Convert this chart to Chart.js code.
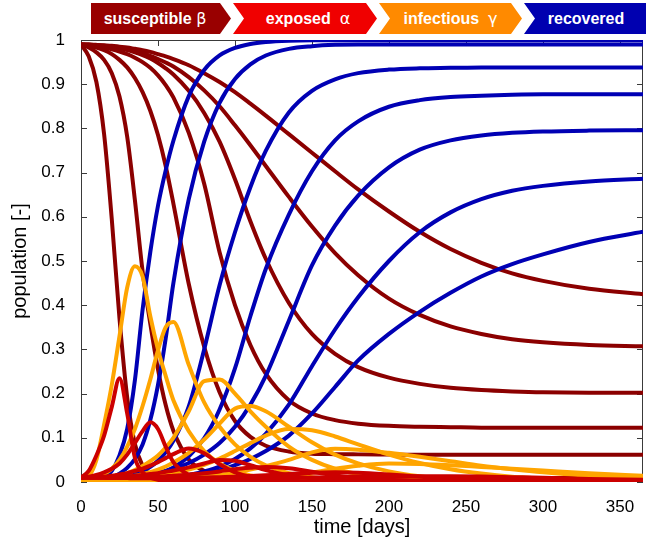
<!DOCTYPE html>
<html>
<head>
<meta charset="utf-8">
<script src="https://cdn.jsdelivr.net/npm/chart.js@4.4.1/dist/chart.umd.min.js"></script>
<style>
  body { margin: 0; background: #fff; }
  #wrap { position: relative; width: 646px; height: 544px; }
  #plot { position: absolute; left: 0; top: 0; }
  .seg {
    position: absolute; top: 3px; height: 31px;
    display: flex; align-items: center; justify-content: center;
    color: #fff; font: bold 16px "Liberation Sans", Arial, sans-serif;
    box-sizing: border-box; white-space: pre;
  }
  .seg .g { font: 16px "DejaVu Sans", sans-serif; }
  .first { clip-path: polygon(0 0, calc(100% - 11px) 0, 100% 50%, calc(100% - 11px) 100%, 0 100%); padding-right: 12px; }
  .mid { clip-path: polygon(0 0, calc(100% - 11px) 0, 100% 50%, calc(100% - 11px) 100%, 0 100%, 11px 50%); }
  .last { clip-path: polygon(0 0, 100% 0, 100% 100%, 0 100%, 11px 50%); padding-left: 2px; }
</style>
</head>
<body>
<div id="wrap">
  <canvas id="plot" width="646" height="544"></canvas>
  <div class="seg first" style="left:91px;width:140px;background:#990000">susceptible <span class="g">β</span></div>
  <div class="seg mid" style="left:233px;width:144px;background:#f00000;padding-left:6px">exposed  <span class="g">α</span></div>
  <div class="seg mid" style="left:379px;width:143px;background:#ff8a00">infectious  <span class="g">γ</span></div>
  <div class="seg last" style="left:524px;width:122px;background:#0000b0">recovered</div>
</div>
<script>
// sample days shared by every curve
const days = [0,5,10,15,20,25,30,35,40,45,50,55,60,70,80,90,100,110,120,135,150,165,180,200,220,240,260,280,300,330,365];

const xTicks = [0,50,100,150,200,250,300,350];
const yTicks = [0,0.1,0.2,0.3,0.4,0.5,0.6,0.7,0.8,0.9,1];

// susceptible, fastest beta first
const susceptible = [
  [.99,.963,.905,.787,.594,.37,.191,.086,.037,.015,.006,.0024,.001,.0005,.0005,.0005,.0005,.0005,.0005,.0005,.0005,.0005,.0005,.0005,.0005,.0005,.0005,.0005,.0005,.0005,.0005],
  [.99,.983,.972,.955,.925,.872,.781,.638,.477,.358,.255,.174,.116,.051,.025,.015,.011,.01,.0095,.009,.009,.009,.009,.009,.009,.009,.009,.009,.009,.009,.009],
  [.99,.987,.983,.977,.968,.955,.938,.914,.882,.84,.785,.715,.63,.448,.306,.203,.138,.102,.082,.069,.064,.063,.0625,.062,.0615,.0615,.0615,.0615,.0615,.0615,.0615],
  [.99,.988,.986,.983,.979,.974,.968,.96,.95,.937,.92,.898,.87,.79,.675,.52,.4,.31,.245,.185,.155,.14,.132,.127,.125,.124,.123,.123,.123,.123,.123],
  [.99,.989,.988,.986,.984,.981,.977,.972,.966,.958,.948,.936,.922,.885,.835,.77,.685,.59,.505,.405,.335,.29,.26,.236,.222,.213,.208,.205,.203,.202,.202],
  [.99,.99,.988,.987,.985,.982,.979,.975,.97,.964,.957,.949,.94,.916,.886,.85,.807,.762,.715,.645,.578,.518,.468,.415,.378,.352,.335,.323,.316,.31,.307],
  [.99,.99,.989,.988,.987,.985,.983,.98,.977,.973,.968,.963,.957,.943,.925,.905,.882,.856,.829,.787,.745,.703,.662,.612,.566,.527,.496,.472,.455,.437,.425]
];

const exposed = [
  [.01,.025,.06,.105,.17,.235,.155,.055,.022,.01,.005,.0025,.0015,.0008,.0004,.0002,.0001,0,0,0,0,0,0,0,0,0,0,0,0,0,0],
  [.01,.012,.016,.022,.03,.042,.062,.088,.115,.135,.12,.08,.045,.016,.007,.003,.0015,.001,.0005,0,0,0,0,0,0,0,0,0,0,0,0],
  [.01,.01,.011,.012,.014,.017,.02,.025,.03,.037,.045,.054,.063,.076,.065,.04,.022,.012,.007,.003,.0015,.0007,.0003,0,0,0,0,0,0,0,0],
  [.01,.01,.01,.01,.011,.012,.013,.014,.016,.018,.02,.023,.026,.033,.042,.05,.048,.038,.027,.015,.008,.004,.002,.001,.0005,0,0,0,0,0,0],
  [.01,.01,.01,.01,.01,.01,.01,.011,.011,.012,.012,.013,.014,.017,.02,.024,.029,.032,.034,.031,.023,.015,.009,.005,.003,.0015,.0008,.0004,.0002,0,0],
  [.01,.01,.01,.01,.0095,.0095,.009,.009,.009,.009,.009,.009,.009,.0095,.01,.011,.012,.0135,.015,.018,.021,.022,.021,.017,.012,.008,.005,.003,.002,.001,.0005],
  [.01,.01,.0095,.0095,.009,.009,.0088,.0085,.0085,.0083,.0082,.008,.008,.008,.008,.008,.008,.0085,.009,.009,.01,.011,.012,.0125,.013,.013,.0125,.011,.0095,.007,.005]
];

const infectious = [
  [.002,.012,.05,.13,.22,.33,.44,.488,.465,.375,.3,.24,.185,.115,.07,.042,.025,.015,.009,.004,.002,.001,.0005,0,0,0,0,0,0,0,0],
  [.002,.005,.01,.018,.03,.05,.08,.12,.172,.232,.298,.35,.362,.265,.18,.125,.085,.057,.038,.02,.011,.006,.003,.0015,.0007,.0003,0,0,0,0,0],
  [.002,.004,.006,.008,.011,.015,.02,.027,.036,.047,.06,.078,.1,.16,.228,.232,.2,.16,.125,.08,.05,.03,.018,.009,.005,.003,.0015,.0008,.0004,.0002,0],
  [.002,.003,.004,.005,.007,.009,.011,.014,.018,.022,.028,.035,.044,.066,.096,.132,.166,.172,.16,.125,.09,.062,.042,.024,.013,.007,.004,.002,.001,.0005,0],
  [.002,.0025,.003,.004,.005,.006,.007,.0085,.01,.012,.014,.017,.02,.028,.039,.053,.07,.088,.105,.12,.117,.103,.085,.062,.043,.029,.019,.012,.008,.004,.0015],
  [.002,.0022,.0025,.0028,.003,.0034,.0038,.0043,.0048,.0054,.006,.0067,.0075,.0095,.012,.016,.021,.028,.036,.05,.067,.075,.073,.066,.057,.047,.037,.029,.022,.014,.008],
  [.002,.002,.0022,.0024,.0026,.0028,.003,.0032,.0034,.0036,.0039,.0042,.0045,.005,.006,.007,.0085,.01,.012,.016,.021,.03,.037,.042,.041,.038,.034,.03,.026,.02,.014]
];

const recovered = [
  [0,.001,.004,.01,.025,.06,.12,.23,.39,.52,.625,.705,.772,.873,.932,.965,.982,.991,.9954,.9984,.9994,.9995,.9995,.9995,.9995,.9995,.9995,.9995,.9995,.9995,.9995],
  [0,.001,.003,.006,.011,.019,.032,.052,.085,.14,.22,.325,.45,.64,.77,.858,.912,.945,.965,.98,.986,.989,.99,.99,.99,.99,.99,.99,.99,.99,.99],
  [0,.001,.003,.004,.006,.008,.012,.017,.024,.034,.048,.067,.093,.171,.3,.445,.565,.667,.749,.836,.885,.911,.925,.933,.936,.937,.938,.938,.938,.938,.938],
  [0,.001,.002,.002,.003,.004,.006,.008,.011,.014,.019,.025,.033,.058,.099,.164,.257,.375,.482,.605,.703,.773,.816,.849,.864,.871,.874,.876,.877,.877,.877],
  [0,.001,.002,.003,.004,.006,.008,.01,.013,.016,.02,.025,.03,.043,.062,.088,.125,.175,.24,.365,.49,.58,.648,.712,.752,.773,.784,.79,.793,.795,.796],
  [0,0,.001,.001,.002,.002,.003,.004,.005,.006,.007,.008,.01,.016,.024,.035,.052,.076,.109,.175,.262,.345,.418,.5,.565,.61,.64,.659,.67,.68,.686],
  [0,0,.001,.001,.002,.002,.003,.003,.004,.005,.006,.007,.008,.012,.018,.026,.038,.052,.07,.105,.155,.215,.275,.335,.385,.428,.465,.493,.515,.543,.566]
];

const colors = {
  susceptible: '#8b0000',
  exposed: '#cc0000',
  infectious: '#ffa500',
  recovered: '#0000b4'
};

function series(group, color) {
  return group.map(vals => ({
    data: vals.map((v, i) => ({ x: days[i], y: v })),
    borderColor: color,
    borderWidth: 4,
    pointRadius: 0,
    fill: false,
    cubicInterpolationMode: 'monotone'
  }));
}

// first dataset is drawn on top
const datasets = [
  ...series(exposed, colors.exposed),
  ...series(infectious, colors.infectious),
  ...series(recovered, colors.recovered),
  ...series(susceptible, colors.susceptible)
];

// box and inward ticks, matlab style
const frame = {
  id: 'frame',
  beforeDatasetsDraw(chart) {
    const { ctx, chartArea: a, scales: { x, y } } = chart;
    ctx.save();
    ctx.strokeStyle = '#3a3a3a';
    ctx.lineWidth = 1;
    ctx.strokeRect(a.left + .5, a.top + .5, a.right - a.left - 1, a.bottom - a.top - 1);
    ctx.beginPath();
    xTicks.forEach(v => {
      const p = Math.round(x.getPixelForValue(v)) + .5;
      ctx.moveTo(p, a.bottom); ctx.lineTo(p, a.bottom - 6);
      ctx.moveTo(p, a.top); ctx.lineTo(p, a.top + 6);
    });
    yTicks.forEach(v => {
      const p = Math.round(y.getPixelForValue(v)) + .5;
      ctx.moveTo(a.left, p); ctx.lineTo(a.left + 6, p);
      ctx.moveTo(a.right, p); ctx.lineTo(a.right - 6, p);
    });
    ctx.stroke();
    ctx.restore();
  }
};

const font = { family: '"Liberation Sans", Arial, sans-serif', size: 17 };

new Chart(document.getElementById('plot'), {
  type: 'line',
  data: { datasets: datasets },
  options: {
    responsive: false,
    animation: false,
    layout: { padding: { top: 40, right: 3, left: 0, bottom: 0 } },
    plugins: { legend: { display: false }, tooltip: { enabled: false } },
    scales: {
      x: {
        type: 'linear',
        min: 0,
        max: 365,
        afterFit: s => { s.height = 62; },
        afterBuildTicks: s => { s.ticks = xTicks.map(v => ({ value: v })); },
        grid: { display: false },
        border: { display: false },
        ticks: { font: font, color: '#000', padding: 7, maxRotation: 0, autoSkip: false },
        title: { display: true, text: 'time [days]', font: { family: font.family, size: 20 }, color: '#000', padding: { top: 0, bottom: 5 } }
      },
      y: {
        min: 0,
        max: 1,
        afterFit: s => { s.width = 81; },
        afterBuildTicks: s => { s.ticks = yTicks.map(v => ({ value: v })); },
        grid: { display: false },
        border: { display: false },
        ticks: { font: font, color: '#000', padding: 8, callback: v => String(Math.round(v * 10) / 10) },
        title: { display: true, text: 'population [-]', font: { family: font.family, size: 20 }, color: '#000', padding: { top: 8, bottom: 0 } }
      }
    }
  },
  plugins: [frame]
});
</script>
</body>
</html>
